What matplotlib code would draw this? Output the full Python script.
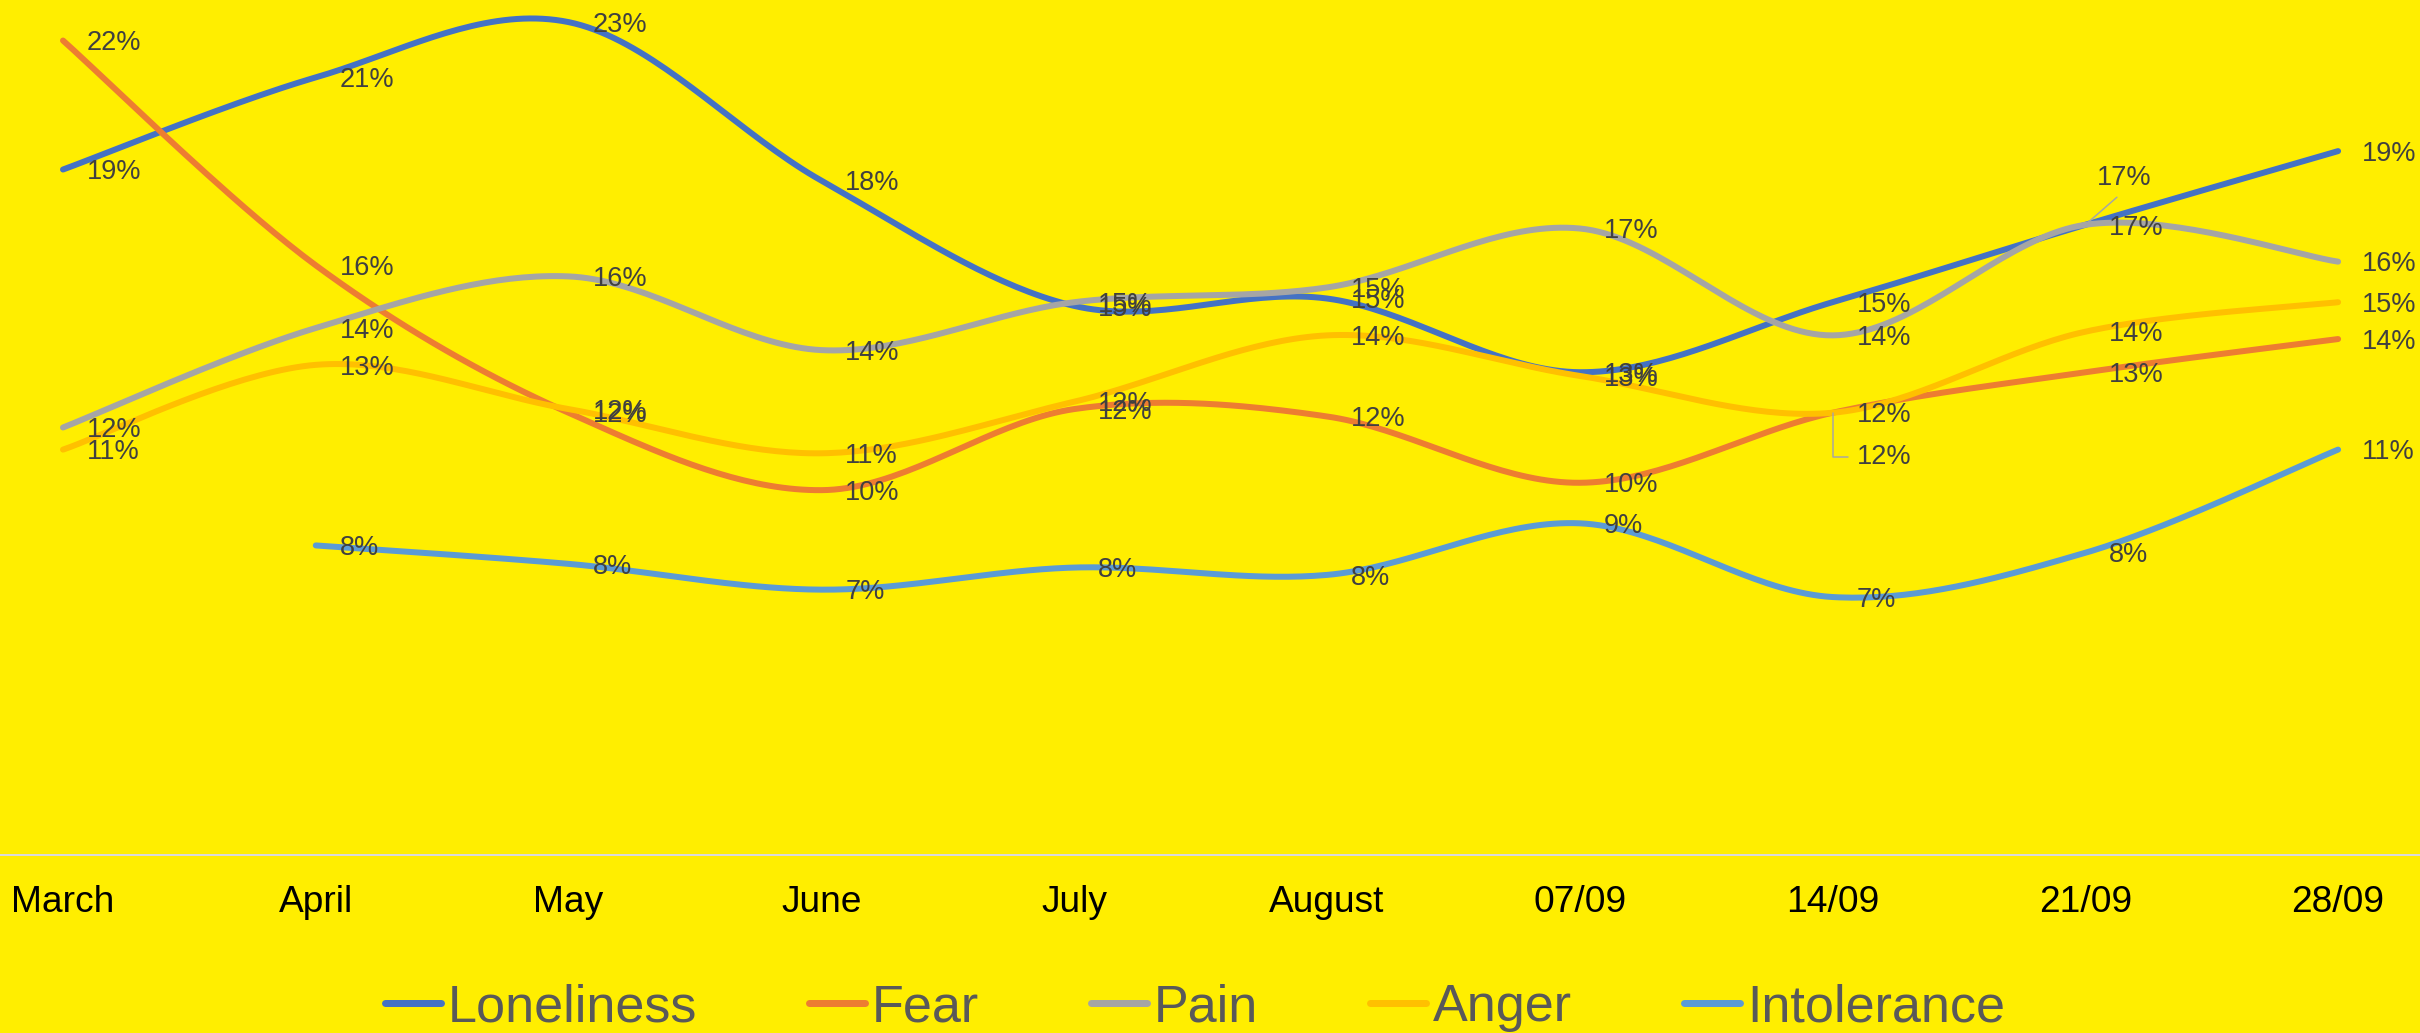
import numpy as np
import matplotlib
matplotlib.use("Agg")
import matplotlib.pyplot as plt
from matplotlib import font_manager

plt.rcParams['font.family'] = ['Liberation Sans', 'DejaVu Sans']

# ---------------- data (percent) ----------------
categories = ['March', 'April', 'May', 'June', 'July', 'August',
              '07/09', '14/09', '21/09', '28/09']
loneliness = [18.6, 21.1, 22.6, 18.3, 14.9, 15.1, 13.1, 15.0, 17.1, 19.1]
fear = [22.1, 16.0, 12.0, 9.9, 12.1, 11.9, 10.1, 12.0, 13.1, 14.0]
pain = [11.6, 14.3, 15.7, 13.7, 15.0, 15.4, 17.0, 14.1, 17.1, 16.1]
anger = [11.0, 13.3, 12.1, 10.9, 12.3, 14.1, 13.0, 12.0, 14.2, 15.0]
intolerance = [np.nan, 8.4, 7.9, 7.2, 7.8, 7.6, 9.0, 7.0, 8.2, 11.0]

series_names = ['Loneliness', 'Fear', 'Pain', 'Anger', 'Intolerance']
series_values = [loneliness, fear, pain, anger, intolerance]
series_colors = ['#4472C4', '#ED7D31', '#A5A5A5', '#FFC000', '#5B9BD5']

BG = '#FFEE00'
W, H, DPI = 2420, 1033, 100
PX = 72.0 / DPI  # points per pixel


def smooth(xs, ys, n=40):
    """Catmull-Rom (Excel-like smoothed line) through the given points."""
    xs = np.asarray(xs, float)
    ys = np.asarray(ys, float)
    P = np.column_stack([xs, ys])
    out = [P[0]]
    t = np.linspace(0, 1, n)[1:, None]
    for i in range(len(P) - 1):
        p0 = P[i - 1] if i > 0 else P[i]
        p1, p2 = P[i], P[i + 1]
        p3 = P[i + 2] if i + 2 < len(P) else P[i + 1]
        c1 = p1 + (p2 - p0) / 6.0
        c2 = p2 - (p3 - p1) / 6.0
        seg = ((1 - t) ** 3) * p1 + 3 * ((1 - t) ** 2) * t * c1 \
            + 3 * (1 - t) * t ** 2 * c2 + t ** 3 * p2
        out.extend(seg)
    out = np.array(out)
    return out[:, 0], out[:, 1]


fig = plt.figure(figsize=(W / DPI, H / DPI), dpi=DPI, facecolor=BG)
ax = fig.add_axes([0, 178 / H, 1, 855 / H])
ax.set_facecolor(BG)
ax.set_xlim(-0.2492, 9.324)
ax.set_ylim(0, 23.2)
for s in ['top', 'right', 'left']:
    ax.spines[s].set_visible(False)
ax.spines['bottom'].set_color('#D9D9D9')
ax.spines['bottom'].set_linewidth(2 * PX)
ax.set_yticks([])
ax.set_xticks(range(len(categories)))
ax.set_xticklabels(categories, fontsize=26.7, color='black')
ax.tick_params(axis='x', length=0, pad=56.5 * PX)
for lab in ax.get_xticklabels():
    lab.set_verticalalignment('baseline')

x_idx = np.arange(len(categories))
handles = []
for name, vals, col in zip(series_names, series_values, series_colors):
    v = np.asarray(vals, float)
    m = ~np.isnan(v)
    sx, sy = smooth(x_idx[m], v[m])
    ln, = ax.plot(sx, sy, color=col, lw=6 * PX, solid_capstyle='round',
                  clip_on=False)
    handles.append(ln)

# data labels (right of point); a few were moved with leader lines
LABEL_COLOR = '#404040'
LSIZE = 19.5
cap_half = 0.716 * LSIZE / PX / 2  # px
moved = {('Pain', 8): (12, 50 - cap_half, (0.5, 0.0), 'arc3'),
         ('Fear', 7): (24, -42 - cap_half, (0.0, 0.5),
                       'angle,angleA=180,angleB=90,rad=0')}
for name, vals in zip(series_names, series_values):
    for i, v in enumerate(vals):
        if np.isnan(v):
            continue
        txt = f"{v:.0f}%"
        key = (name, i)
        if key in moved:
            dx, dy, rel, conn = moved[key]
            ax.annotate(txt, xy=(i, v), xytext=(dx * PX, dy * PX),
                        textcoords='offset points', ha='left', va='baseline',
                        fontsize=LSIZE, color=LABEL_COLOR, zorder=5,
                        arrowprops=dict(arrowstyle='-', color='#A6A6A6',
                                        lw=1.5 * PX, shrinkA=6 * PX,
                                        shrinkB=0, relpos=rel,
                                        connectionstyle=conn))
        else:
            ax.annotate(txt, xy=(i, v), xytext=(24 * PX, -cap_half * PX),
                        textcoords='offset points', ha='left', va='baseline',
                        fontsize=LSIZE, color=LABEL_COLOR, zorder=5)

# legend: condensed face if the narrow Liberation face is installed
names = {f.name for f in font_manager.fontManager.ttflist}
if 'Liberation Sans Narrow' in names:
    leg_family = ['Liberation Sans Narrow', 'Liberation Sans']
    leg_size = 45.0
else:
    leg_family = ['Liberation Sans', 'DejaVu Sans']
    leg_size = 37.5
em_px = leg_size / PX
leg = fig.legend(handles, series_names, loc='center',
                 bbox_to_anchor=(1195 / W, 1 - 1008 / H), ncol=5,
                 frameon=False, prop={'family': leg_family, 'size': leg_size},
                 labelcolor='#595959',
                 handlelength=56 / em_px, handletextpad=7 / em_px,
                 columnspacing=112 / em_px,
                 borderpad=0, borderaxespad=0)
for h in leg.legend_handles:
    h.set_linewidth(7 * PX)
    h.set_solid_capstyle('round')

fig.savefig('out.png', dpi=DPI, facecolor=BG)
